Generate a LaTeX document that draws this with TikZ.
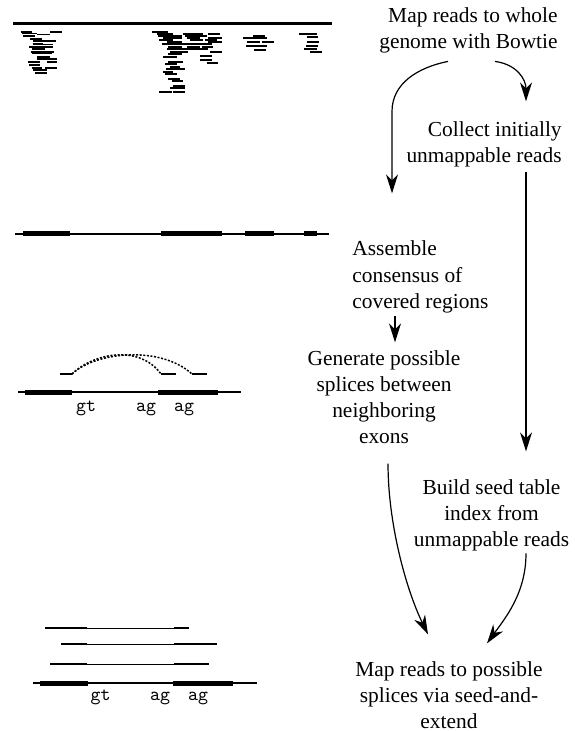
\documentclass[tikz,border=0pt]{standalone}
\usepackage{fontspec}
\setmainfont{Liberation Serif}
\usetikzlibrary{arrows.meta, positioning}

\tikzset{
  stage/.style={inner sep=0pt, font=\fontsize{10.7}{13}\selectfont},
  flow/.style={-{Stealth[length=9.5pt,width=6pt,inset=3pt]}, line width=0.6pt},
  hit/.style={line width=0.9pt},
  readhit/.style={line width=1.3pt},
  exon/.style={line width=2.5pt},
  intron/.style={line width=0.7pt},
  gap/.style={line width=0.5pt},
  junction/.style={dash pattern=on 1pt off 0.8pt, line width=0.75pt},
  site/.style={inner sep=0pt, anchor=base, font=\fontsize{9.5}{11}\ttfamily},
}

\begin{document}
\begin{tikzpicture}[x=0.5pt, y=-0.5pt]
\useasboundingbox (0,0) rectangle (574,731);

% genome with mapped reads
\draw[line width=1.5pt] (13,24) -- (332,24);
\foreach \a/\b/\y in {20.7/31.7/31.7, 50/61.7/31.7, 21.7/37.3/33.5, 37.3/50/34.5, 23.3/35/36,
    30/41.7/39, 33.3/45/41.3, 45/56/41.3, 32.7/43.3/44.3, 39/53/44.5, 29.3/43.3/46.7, 43/53/46.7,
    31.7/45/49.3, 30.7/43.3/52, 42.7/54/52, 31.7/51.7/53.5, 37.3/50/56.7, 36.7/46.7/59.3,
    46/56.7/59.3, 28.3/40/62, 46.7/57.3/62, 29.3/40/65, 31.7/41.7/67.7, 45/56.7/67.7,
    33.3/46.7/70, 35/46.7/73.3}
  \draw[hit] (\a,\y) -- (\b,\y);
\foreach \a/\b/\y in {151.7/168.3/32.3, 156.7/173.3/34.3, 183.3/203.3/34.3, 208.3/220/34.3,
    158.3/181.7/36, 185/206.7/36, 163.3/181.7/37.7, 186.7/200/37.7, 208.3/221.7/37.7,
    159/173/40, 190/203/40, 205/217/40, 166.7/181.7/42.3, 208.3/221.7/42.3,
    161.7/186.7/44.3, 185/211.7/44.3, 168.3/181.7/46.7, 186.7/200/46.7, 201.7/213.3/46.7,
    166.7/180/49, 180/191.7/49, 190/208.3/49, 170/188.3/52.3, 210/221.7/52.3,
    168.3/181.7/54.3, 200/211.7/56, 163.3/176.7/57.3, 200/211.7/60, 168.3/183.3/61.7,
    206.7/218.3/62.7, 165/176.7/64.3, 170/180/66.7, 166/185/69.3, 163.3/173.3/71.7,
    165/176.7/74, 168.3/180/79, 171.7/183.3/81, 173.3/185/86, 170/185/88.3,
    159.3/171.7/91.7, 173.3/185/91.7}
  \draw[hit] (\a,\y) -- (\b,\y);
\foreach \a/\b/\y in {253.3/265/35.7, 243.3/255/37.7, 255/266.7/37.7, 246.7/260/41.7,
    261.7/274/41.7, 246/258.3/45.7, 256.7/266.7/45.7, 254/266/50,
    299.3/316.7/34.3, 306.7/318.3/36.7, 306.7/319.3/42, 306/318.3/46, 304/316.7/49.3,
    310/321.7/51.7}
  \draw[hit] (\a,\y) -- (\b,\y);

% consensus of covered regions
\draw[intron] (15,234) -- (329,234);
\foreach \a/\b in {23/70, 161/222, 245/274, 304/317}
  \draw[exon] (\a,234) -- (\b,234);

% candidate splices
\draw[intron] (18,392) -- (241,392);
\draw[exon] (25,392) -- (72,392);
\draw[exon] (158,392) -- (218,392);
\draw[readhit] (60,374) -- (72,374) (161,374) -- (176,374) (192,374) -- (207,374);
\draw[junction] (72,374) .. controls (95,352) and (160,345) .. (192,374);
\draw[junction] (72,374) .. controls (95,352) and (140,345) .. (161,374);
\node[site] (gt1) at (86,411) {gt};
\node[site] (ag1) at (146,411) {ag};
\node[site] (ag2) at (184,411) {ag};

% spliced reads
\foreach \a/\b/\y in {45/189/628, 61/217/644, 50/209/664} {
  \draw[gap] (87,\y) -- (174,\y);
  \draw[readhit] (\a,\y) -- (87,\y) (174,\y) -- (\b,\y);
}
\draw[intron] (33,683) -- (257,683);
\draw[exon] (40,683) -- (88,683);
\draw[exon] (173,683) -- (233,683);
\node[site] (gt3) at (100.7,700) {gt};
\node[site] (ag3) at (160,700) {ag};
\node[site] (ag4) at (198,700) {ag};

% pipeline steps
\node[stage, align=right, anchor=base east] (bowtie) at (558,49) {Map reads to whole\\genome with Bowtie};
\node[stage, align=right, anchor=base east] (collect) at (562,163) {Collect initially\\unmappable reads};
\node[stage, align=left, anchor=base west] (assemble) at (352,308) {Assemble\\consensus of\\covered regions};
\node[stage, align=center, anchor=base] (generate) at (384,443) {Generate possible\\splices between\\neighboring\\exons};
\node[stage, align=center, anchor=base] (seedidx) at (491.5,546) {Build seed table\\index from\\unmappable reads};
\node[stage, align=center, anchor=base] (splicemap) at (449,728) {Map reads to possible\\splices via seed-and-\\extend};

\draw[flow] ([shift={(-110,7.4)}]bowtie.south east) .. controls +(-30,6) and +(0,-28) .. ([shift={(40,-129.4)}]assemble.north west) -- ([shift={(40,-47.4)}]assemble.north west);
\draw[flow] ([shift={(-63,7.4)}]bowtie.south east) .. controls +(22,3) and +(0,-22) .. ([shift={(-36,-20.4)}]collect.north east);
\draw[flow] ([shift={(-36,4.4)}]collect.south east) -- ([shift={(34.5,-27.4)}]seedidx.north);
\draw[flow] ([shift={(43,3.4)}]assemble.south west) -- ([shift={(11,-7.4)}]generate.north);
\draw[flow] ([shift={(4,20)}]generate.south) .. controls +(0,60) and +(-22,-45) .. ([shift={(-21,-26.4)}]splicemap.north);
\draw[flow] ([shift={(34.5,2.4)}]seedidx.south) .. controls +(0,40) and +(18,-25) .. ([shift={(38,-17.4)}]splicemap.north);
\end{tikzpicture}
\end{document}
